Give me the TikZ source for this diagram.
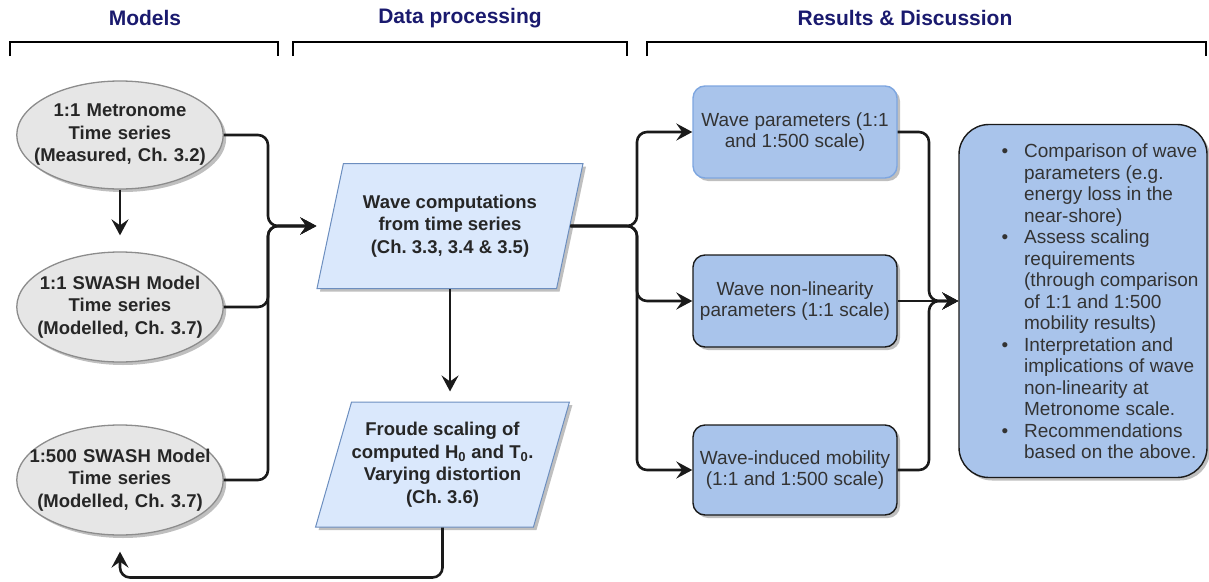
\documentclass[tikz,border=0pt]{standalone}
\usepackage{fontspec}
\setmainfont{Liberation Sans}
\usetikzlibrary{positioning,shapes.geometric,arrows.meta,shadows}
\frenchspacing

\definecolor{headblue}{HTML}{1A1A6E}
\definecolor{modelfill}{HTML}{E6E6E6}
\definecolor{modeldraw}{HTML}{8C8C8C}
\definecolor{procfill}{HTML}{DAE8FC}
\definecolor{procdraw}{HTML}{6C8EBF}
\definecolor{resfill}{HTML}{A9C4EB}
\definecolor{resdraw}{HTML}{7EA6E0}
\definecolor{txtgray}{HTML}{333333}
\definecolor{linedark}{HTML}{1A1A1A}

\begin{document}
\begin{tikzpicture}[x=1pt, y=-1pt,
  shadowed/.style={drop shadow={shadow xshift=3pt, shadow yshift=-3pt, fill=black, opacity=0.25}},
  model/.style={ellipse, draw=modeldraw, line width=1.3pt, fill=modelfill, shadowed, text=black!85, font=\bfseries\fontsize{18.5}{22.5}\selectfont, text width=190pt, align=center, inner xsep=-22pt, inner ysep=0pt, minimum width=205pt, minimum height=108pt},
  proc/.style={trapezium, trapezium left angle=67, trapezium right angle=113, trapezium stretches body, draw=procdraw, line width=1pt, fill=procfill, shadowed, text=black!85, font=\bfseries\fontsize{18.5}{22.5}\selectfont, align=center, inner sep=0pt, minimum height=125pt},
  result/.style={draw=linedark, line width=1.4pt, fill=resfill, rounded corners=12pt, shadowed, text=txtgray, font=\fontsize{19}{21.5}\selectfont, align=center, minimum width=204pt, minimum height=92pt, inner sep=0pt},
  heading/.style={text=headblue, font=\bfseries\fontsize{21}{25}\selectfont},
  bracket/.style={draw=black, line width=2.6pt},
  link/.style={draw=linedark, line width=2.6pt, rounded corners=10pt},
  conn/.style={link, -{Stealth[length=16pt, width=17pt, inset=6pt]}}
]
\useasboundingbox (0,0) rectangle (1209,581);

% headings and brackets
\node[heading] (hmod) at (145,18) {Models};
\node[heading] (hproc) at (460,18) {Data processing};
\node[heading] (hres) at (905,18) {Results \& Discussion};
\draw[bracket] (10,56) -- (10,42) -- (278,42) -- (278,56);
\draw[bracket] (293,56) -- (293,42) -- (627,42) -- (627,56);
\draw[bracket] (647,56) -- (647,42) -- (1206,42) -- (1206,56);

% models
\node[model] (m1) at (120,135) {1:1 Metronome\\Time series\\(Measured, Ch. 3.2)};
\node[model, minimum height=110pt] (m2) at (120,307) {1:1 SWASH Model\\Time series\\(Modelled, Ch. 3.7)};
\node[model, minimum height=110pt] (m3) at (120,480) {1:500 SWASH Model\\Time series\\(Modelled, Ch. 3.7)};

% data processing
\node[proc, minimum width=266pt] (wc) at (450,226) {Wave computations\\from time series\\(Ch. 3.3, 3.4 \& 3.5)};
\node[proc, minimum width=251pt] (fs) at (442.5,464.5) {Froude scaling of\\computed H\textsubscript{0} and T\textsubscript{0}.\\Varying distortion\\(Ch. 3.6)};

% results
\node[result, draw=resdraw] (wp) at (795,132) {Wave parameters (1:1\\and 1:500 scale)};
\node[result] (wn) at (795,301) {Wave non-linearity\\parameters (1:1 scale)};
\node[result, minimum height=90pt] (wm) at (795,470) {Wave-induced mobility\\(1:1 and 1:500 scale)};
\node[result, rounded corners=30pt, minimum width=248pt, minimum height=353pt] (disc) at (1083,301) {};
\node[anchor=west, inner sep=0pt, text=txtgray, font=\fontsize{19}{21.5}\selectfont] (disctxt) at ([xshift=43pt,yshift=-3pt]disc.west) {%
  \begin{tabular}{@{}l@{\hspace{16pt}}l@{}}
  \textbullet & Comparison of wave\\
   & parameters (e.g.\\
   & energy loss in the\\
   & near-shore)\\
  \textbullet & Assess scaling\\
   & requirements\\
   & (through comparison\\
   & of 1:1 and 1:500\\
   & mobility results)\\
  \textbullet & Interpretation and\\
   & implications of wave\\
   & non-linearity at\\
   & Metronome scale.\\
  \textbullet & Recommendations\\
   & based on the above.
  \end{tabular}};

% junctions
\coordinate (mj) at (268,226);
\coordinate (wcin) at (wc.bottom left corner |- wc.center);
\coordinate (rj) at (637,226);
\coordinate (dj) at (929,301);

% connectors
\draw[conn, shorten >=16pt] (m1) -- (m2);
\draw[conn] (m1.east) -| (mj) -- (wcin);
\draw[conn] (m2.east) -| (mj) -- (wcin);
\draw[conn] (m3.east) -| (mj) -- (wcin);
\draw[conn, shorten >=10pt] (wc.south) -- (wc.south |- fs.north);
\draw[conn, shorten >=16pt] (fs.south) -- ++(0,50) -| (m3.south);
\draw[conn] (wc.east) -- (rj) |- (wp.west);
\draw[conn] (wc.east) -- (rj) |- (wn.west);
\draw[conn] (wc.east) -- (rj) |- (wm.west);
\draw[conn] (wp.east) -| (dj) -- (disc.west);
\draw[conn] (wn.east) -- (dj) -- (disc.west);
\draw[conn] (wm.east) -| (dj) -- (disc.west);
\end{tikzpicture}
\end{document}
